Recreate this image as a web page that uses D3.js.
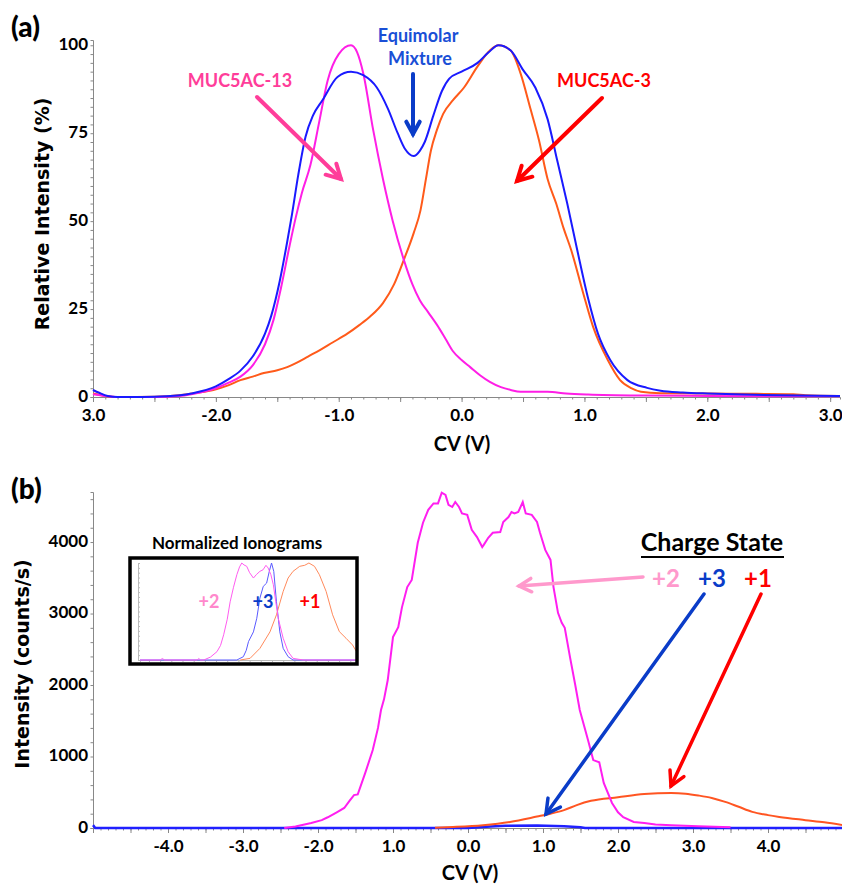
<!DOCTYPE html>
<html>
<head>
<meta charset="utf-8">
<script src="https://cdn.jsdelivr.net/npm/d3@7"></script>
<style>
body { margin: 0; background: #fff; }
svg { display: block; }
.tick text { font-family: Lato, sans-serif; font-weight: bold; fill: #000; }
</style>
</head>
<body>
<script>
// panel (a): relative intensity (%) vs CV (V)
var equimolar = [[-3.0,2.0],[-2.95,1.2],[-2.88,0.3],[-2.8,0],[-2.6,0],[-2.4,0.2],[-2.2,1],[-2.0,3],[-1.9,5],[-1.8,7.5],[-1.7,11.5],[-1.6,18],[-1.55,23],[-1.48,33],[-1.42,44],[-1.38,52],[-1.33,63],[-1.27,74],[-1.21,80],[-1.13,84.5],[-1.01,91],[-0.9,92.5],[-0.8,91.5],[-0.69,88],[-0.6,82],[-0.52,75],[-0.46,70.5],[-0.39,68.5],[-0.34,70],[-0.3,72.5],[-0.23,80],[-0.16,87],[-0.1,90.5],[0.0,92.5],[0.13,95],[0.22,98],[0.3,100],[0.4,98.5],[0.5,93],[0.6,88],[0.7,79],[0.78,67],[0.86,55],[0.94,42],[1.03,28],[1.11,18],[1.21,10.5],[1.35,4.8],[1.51,2.6],[1.62,1.8],[1.8,1.3],[2.0,1.0],[2.3,0.7],[2.6,0.5],[3.08,0.3]];
var muc13 = [[-3.0,0.8],[-2.9,0.3],[-2.8,0],[-2.5,0],[-2.3,0.3],[-2.2,0.8],[-2.0,2.5],[-1.9,4],[-1.8,5.8],[-1.7,9],[-1.6,15],[-1.53,22],[-1.47,31],[-1.4,43],[-1.35,51],[-1.3,58],[-1.23,66],[-1.16,78],[-1.09,90],[-1.0,97.5],[-0.9,100],[-0.85,98],[-0.8,92],[-0.72,76],[-0.64,62],[-0.56,50],[-0.47,39],[-0.4,32],[-0.34,27.5],[-0.27,24],[-0.2,20.5],[-0.13,16.5],[-0.07,13],[0.0,10.5],[0.07,8.5],[0.15,6.2],[0.23,4.3],[0.32,2.8],[0.4,2],[0.48,1.5],[0.7,1.5],[0.85,1.0],[1.03,0.7],[1.5,0.4],[2.0,0.3],[3.08,0.2]];
var muc3 = [[-3.0,1.0],[-2.93,0.5],[-2.85,0.1],[-2.8,0],[-2.5,0.1],[-2.3,0.5],[-2.15,1.2],[-2.02,2],[-1.9,3.3],[-1.8,4.8],[-1.7,5.8],[-1.61,6.8],[-1.5,7.6],[-1.42,8.5],[-1.34,9.8],[-1.25,11.5],[-1.15,13.4],[-1.05,15.5],[-0.93,18],[-0.83,20.5],[-0.74,23],[-0.64,26.7],[-0.55,32],[-0.47,39],[-0.39,46.6],[-0.335,53],[-0.29,62],[-0.25,70],[-0.2,76],[-0.15,80.5],[-0.07,84.4],[0.02,88],[0.13,94],[0.23,98.5],[0.3,100],[0.4,98.5],[0.48,92],[0.56,82],[0.63,73],[0.7,62],[0.77,55],[0.83,48],[0.89,42],[0.99,29.5],[1.07,20],[1.19,10.5],[1.29,4.8],[1.38,2.5],[1.46,1.5],[1.62,1.1],[2.0,1.0],[2.4,0.9],[2.7,0.8],[2.8,0.5],[3.08,0.3]];
var topXTicks = [-3, -2, -1, 0, 1, 2, 3];
var topXLabels = ["3.0", "-2.0", "-1.0", "0.0", "1.0", "2.0", "3.0"];
var topYTicks = [0, 25, 50, 75, 100];

// panel (b): intensity (counts/s) vs CV (V), by charge state
var charge2 = [[-2.45,0],[-2.3,20],[-2.09,70],[-1.95,110],[-1.87,150],[-1.75,220],[-1.65,280],[-1.58,380],[-1.52,460],[-1.47,470],[-1.42,620],[-1.37,770],[-1.27,1090],[-1.2,1400],[-1.16,1650],[-1.12,1800],[-1.07,2070],[-1.0,2670],[-0.93,2810],[-0.88,3090],[-0.81,3370],[-0.75,3470],[-0.67,3990],[-0.6,4270],[-0.53,4450],[-0.46,4540],[-0.4,4540],[-0.35,4690],[-0.3,4660],[-0.26,4520],[-0.21,4490],[-0.17,4560],[-0.12,4490],[-0.08,4400],[-0.01,4380],[0.05,4170],[0.12,4070],[0.19,3930],[0.21,3960],[0.27,4060],[0.33,4130],[0.43,4140],[0.47,4280],[0.54,4350],[0.58,4420],[0.62,4400],[0.67,4420],[0.73,4560],[0.77,4400],[0.85,4380],[0.92,4280],[0.96,4130],[1.03,3890],[1.1,3750],[1.14,3370],[1.2,3010],[1.25,2870],[1.29,2800],[1.36,2390],[1.43,2000],[1.49,1650],[1.6,1230],[1.67,950],[1.75,920],[1.81,630],[1.92,350],[2.0,220],[2.07,150],[2.21,85],[2.35,70],[2.5,50],[2.71,40],[3.07,25],[3.5,10]];
var charge1 = [[-0.44,5],[-0.2,15],[0.2,40],[0.56,85],[0.92,160],[1.1,200],[1.28,250],[1.45,320],[1.64,380],[2.0,430],[2.35,475],[2.71,490],[2.9,480],[3.07,455],[3.25,420],[3.43,365],[3.6,300],[3.79,225],[4.0,180],[4.15,155],[4.5,110],[4.75,80],[5.0,40]];
var charge3 = [[-5.0,40],[-4.97,0],[0.0,0],[0.3,20],[0.5,30],[0.92,35],[1.28,25],[1.5,10],[1.56,0],[5.0,0]];
var botXTicks = [-4, -3, -2, -1, 0, 1, 2, 3, 4];
var botXLabels = ["-4.0", "-3.0", "-2.0", "1.0", "0.0", "1.0", "2.0", "3.0", "4.0"];
var botYTicks = [0, 1000, 2000, 3000, 4000];

// inset: normalized ionograms (%)
var insetPink = [[-4.9,0],[-4.0,0],[-3.9,1.5],[-3.8,0],[-2.35,0],[-2.27,1.5],[-2.2,0],[-2.05,0],[-1.75,3],[-1.46,8.6],[-1.3,15],[-1.16,26],[-1.0,42],[-0.87,60],[-0.72,75],[-0.57,88],[-0.45,96],[-0.35,100],[-0.25,98],[-0.13,96.6],[0.0,90],[0.17,84.5],[0.3,88],[0.46,91.4],[0.6,93],[0.73,97.6],[0.83,94.8],[0.95,88],[1.06,77.6],[1.17,60],[1.28,43],[1.5,22.4],[1.72,8.6],[1.94,1.7],[2.39,0],[4.8,0]];
var insetBlue = [[-4.9,0],[-0.57,0],[-0.28,3.4],[-0.15,10],[-0.05,19],[0.17,29],[0.32,43],[0.46,63.8],[0.61,75.9],[0.76,79.3],[0.88,91.4],[0.98,100],[1.08,91.4],[1.2,60],[1.35,29],[1.5,12],[1.72,3.4],[1.94,0],[4.8,0]];
var insetOrange = [[-0.42,0],[0.02,1.7],[0.46,12],[0.91,29],[1.2,46.6],[1.5,70.7],[1.72,84.5],[1.94,91.4],[2.24,96.6],[2.46,97.6],[2.65,100],[2.9,96.6],[3.12,87.9],[3.42,70.7],[3.71,46.6],[4.01,29.3],[4.31,22.4],[4.6,15.5],[4.78,8.6]];

var width = 842,
	height = 885,
	labelFont = "Lato, sans-serif",
	titleFont = "'DejaVu Sans', Verdana, sans-serif";

var svg = d3.select("body").append("svg")
	.attr("width", width)
	.attr("height", height);

function arrow(g, x1, y1, x2, y2, color, w, head){
	var a = Math.atan2(y2 - y1, x2 - x1),
		s = 0.5;
	g.append("line")
		.attr("x1", x1).attr("y1", y1).attr("x2", x2).attr("y2", y2)
		.style("stroke", color).style("stroke-width", w).style("stroke-linecap", "round");
	g.append("path")
		.attr("d", "M" + (x2 - head * Math.cos(a - s)) + "," + (y2 - head * Math.sin(a - s)) +
			"L" + x2 + "," + y2 +
			"L" + (x2 - head * Math.cos(a + s)) + "," + (y2 - head * Math.sin(a + s)))
		.style("fill", "none").style("stroke", color).style("stroke-width", w)
		.style("stroke-linecap", "round").style("stroke-linejoin", "miter");
}

function xAxes(g, x, y0, labels, ticks, minorStep, majorStep){
	var d = x.domain();
	g.append("g")
		.attr("transform", "translate(0," + y0 + ")")
		.call(d3.axisBottom(x).tickValues(d3.range(d[0], d[1] + 1e-9, minorStep)).tickSize(2.5).tickFormat(""))
		.call(function(s){ s.selectAll("line, path").style("stroke", "#888"); });
	g.append("g")
		.attr("transform", "translate(0," + y0 + ")")
		.call(d3.axisBottom(x).tickValues(d3.range(d[0], d[1] + 1e-9, majorStep)).tickSize(5).tickFormat(""))
		.call(function(s){ s.selectAll("line, path").style("stroke", "#888"); s.select(".domain").remove(); });
	g.append("g")
		.attr("transform", "translate(0," + (y0 + 4) + ")")
		.call(d3.axisBottom(x).tickValues(ticks).tickSize(0).tickPadding(8)
			.tickFormat(function(d, i){ return labels[i]; }))
		.call(function(s){ s.select(".domain").remove(); s.selectAll("text").style("font-size", "17px"); });
}

function yAxes(g, y, x0, ticks, minorStep){
	var d = y.domain();
	g.append("g")
		.attr("transform", "translate(" + x0 + ",0)")
		.call(d3.axisLeft(y).tickValues(d3.range(d[0], d[1] + 1e-9, minorStep)).tickSize(2.5).tickFormat(""))
		.call(function(s){ s.selectAll("line, path").style("stroke", "#888"); });
	g.append("g")
		.attr("transform", "translate(" + x0 + ",-1)")
		.call(d3.axisLeft(y).tickValues(ticks).tickSize(0).tickPadding(5).tickFormat(d3.format("d")))
		.call(function(s){ s.select(".domain").remove(); s.selectAll("text").style("font-size", "17px"); });
}

// ---- panel (a)
var xTop = d3.scaleLinear().domain([-3, 3.08]).range([93, 840]),
	yTop = d3.scaleLinear().domain([0, 101.5]).range([397, 40]);

var panelA = svg.append("g");
yAxes(panelA, yTop, 93, topYTicks, 2.5);
xAxes(panelA, xTop, 397, topXLabels, topXTicks, 0.1, 0.5);

var lineTop = d3.line()
	.x(function(d){ return xTop(d[0]); })
	.y(function(d){ return yTop(d[1]); })
	.curve(d3.curveMonotoneX);

[[muc3, "#ff5a1a"], [muc13, "#ff1ee6"], [equimolar, "#1a1aff"]].forEach(function(s){
	panelA.append("path").datum(s[0])
		.attr("d", lineTop)
		.style("fill", "none").style("stroke", s[1]).style("stroke-width", 2);
});

panelA.append("text").attr("x", 11).attr("y", 37).text("(a)")
	.style("font-family", labelFont).style("font-weight", "900").style("font-size", "28px");
panelA.append("text").attr("x", 462).attr("y", 451).attr("text-anchor", "middle").text("CV (V)")
	.style("font-family", labelFont).style("font-weight", "bold").style("font-size", "20px");
panelA.append("text").attr("transform", "translate(49,214) rotate(-90)").attr("text-anchor", "middle")
	.text("Relative Intensity (%)")
	.style("font-family", titleFont).style("font-weight", "bold").style("font-size", "19px");

panelA.append("text").attr("x", 240).attr("y", 87).attr("text-anchor", "middle").text("MUC5AC-13")
	.style("font-family", labelFont).style("font-weight", "bold").style("font-size", "18px").style("fill", "#ff3d9a");
arrow(panelA, 257, 97, 341, 179, "#ff3d9a", 4, 16);
panelA.append("text").attr("x", 418).attr("y", 42).attr("text-anchor", "middle").text("Equimolar")
	.style("font-family", labelFont).style("font-weight", "bold").style("font-size", "18px").style("fill", "#1a4fd6");
panelA.append("text").attr("x", 420).attr("y", 65).attr("text-anchor", "middle").text("Mixture")
	.style("font-family", labelFont).style("font-weight", "bold").style("font-size", "18px").style("fill", "#1a4fd6");
arrow(panelA, 413, 74, 413, 134, "#0a3cc8", 4, 14);
panelA.append("text").attr("x", 604).attr("y", 87).attr("text-anchor", "middle").text("MUC5AC-3")
	.style("font-family", labelFont).style("font-weight", "bold").style("font-size", "18px").style("fill", "#ff0000");
arrow(panelA, 602, 98, 517, 181, "#ff0000", 4, 16);

// ---- panel (b)
var xBot = d3.scaleLinear().domain([-5, 5]).range([93, 843]),
	yBot = d3.scaleLinear().domain([0, 4700]).range([828, 492]);

var panelB = svg.append("g");
yAxes(panelB, yBot, 93, botYTicks, 200);
xAxes(panelB, xBot, 828, botXLabels, botXTicks, 0.1, 0.5);

var lineBot = d3.line()
	.x(function(d){ return xBot(d[0]); })
	.y(function(d){ return yBot(d[1]); });

panelB.append("path").datum(charge3).attr("d", lineBot)
	.style("fill", "none").style("stroke", "#2020ff").style("stroke-width", 2.5);
panelB.append("path").datum(charge1).attr("d", lineBot.curve(d3.curveMonotoneX))
	.style("fill", "none").style("stroke", "#ff5522").style("stroke-width", 2);
panelB.append("path").datum(charge2).attr("d", lineBot.curve(d3.curveLinear))
	.style("fill", "none").style("stroke", "#ff1ef0").style("stroke-width", 2);

panelB.append("text").attr("x", 11).attr("y", 499).text("(b)")
	.style("font-family", labelFont).style("font-weight", "900").style("font-size", "28px");
panelB.append("text").attr("x", 470).attr("y", 880).attr("text-anchor", "middle").text("CV (V)")
	.style("font-family", labelFont).style("font-weight", "bold").style("font-size", "20px");
panelB.append("text").attr("transform", "translate(29,664) rotate(-90)").attr("text-anchor", "middle")
	.text("Intensity (counts/s)")
	.style("font-family", titleFont).style("font-weight", "bold").style("font-size", "19px");

// legend + arrows
panelB.append("text").attr("x", 712).attr("y", 551).attr("text-anchor", "middle").text("Charge State")
	.style("font-family", labelFont).style("font-weight", "bold").style("font-size", "25px");
panelB.append("line").attr("x1", 641).attr("x2", 784).attr("y1", 557).attr("y2", 557)
	.style("stroke", "#000").style("stroke-width", 2);
[["+2", 666, "#ff99cc"], ["+3", 712, "#0a3cc8"], ["+1", 758, "#ff0000"]].forEach(function(s){
	panelB.append("text").attr("x", s[1]).attr("y", 587).attr("text-anchor", "middle").text(s[0])
		.style("font-family", labelFont).style("font-weight", "bold").style("font-size", "24px").style("fill", s[2]);
});
arrow(panelB, 643, 577, 519, 586, "#ff99cc", 3.5, 14);
arrow(panelB, 704, 594, 546, 814, "#0a3cc8", 3.5, 16);
arrow(panelB, 761, 594, 671, 786, "#ff0000", 3.5, 16);

// ---- inset
var xIn = d3.scaleLinear().domain([-4.9, 4.8]).range([140, 357]),
	yIn = d3.scaleLinear().domain([0, 100]).range([660, 563]);

var inset = svg.append("g");
inset.append("text").attr("x", 237).attr("y", 549).attr("text-anchor", "middle").text("Normalized Ionograms")
	.style("font-family", labelFont).style("font-weight", "bold").style("font-size", "17px");
inset.append("g").attr("transform", "translate(0,660)")
	.call(d3.axisBottom(xIn).ticks(20).tickSize(2).tickFormat(""))
	.call(function(s){ s.selectAll("line, path").style("stroke", "#bbb"); });
inset.append("g").attr("transform", "translate(138,0)")
	.call(d3.axisLeft(yIn).ticks(20).tickSize(-2).tickFormat(""))
	.call(function(s){ s.selectAll("line, path").style("stroke", "#bbb"); });

var lineIn = d3.line()
	.x(function(d){ return xIn(d[0]); })
	.y(function(d){ return yIn(d[1]); });
[[insetBlue, "#5a5aff"], [insetOrange, "#ff8a5c"], [insetPink, "#ff5cf0"]].forEach(function(s){
	inset.append("path").datum(s[0]).attr("d", lineIn)
		.style("fill", "none").style("stroke", s[1]).style("stroke-width", 1);
});
[["+2", 209, "#ff88cc"], ["+3", 263, "#0a3cc8"], ["+1", 310, "#ff0000"]].forEach(function(s){
	inset.append("text").attr("x", s[1]).attr("y", 608).attr("text-anchor", "middle").text(s[0])
		.style("font-family", labelFont).style("font-weight", "bold").style("font-size", "18px").style("fill", s[2]);
});
inset.append("rect").attr("x", 130).attr("y", 558).attr("width", 227).attr("height", 106)
	.style("fill", "none").style("stroke", "#000").style("stroke-width", 3.5);
</script>
</body>
</html>
